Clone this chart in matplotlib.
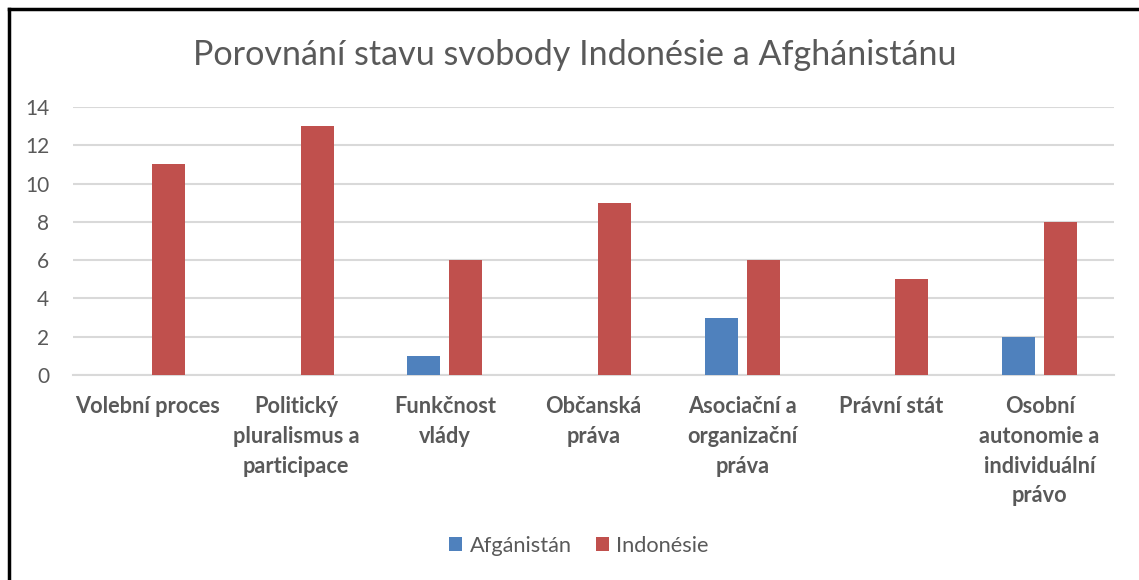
import matplotlib
matplotlib.use("Agg")
import matplotlib.pyplot as plt
import numpy as np
from matplotlib.lines import Line2D

categories = ["Volební proces", "Politický\npluralismus a\nparticipace", "Funkčnost\nvlády",
              "Občanská\npráva", "Asociační a\norganizační\npráva", "Právní stát",
              "Osobní\nautonomie a\nindividuální\nprávo"]
afganistan = [0, 0, 1, 0, 3, 0, 2]
indonesie = [11, 13, 6, 9, 6, 5, 8]
series_names = ["Afgánistán", "Indonésie"]
yticks = [0, 2, 4, 6, 8, 10, 12, 14]
title = "Porovnání stavu svobody Indonésie a Afghánistánu"

plt.rcParams['font.family'] = ['Lato', 'DejaVu Sans']
txt = '#595959'
fig = plt.figure(figsize=(11.39, 5.80), dpi=100)
ax = fig.add_axes([73/1139, 1-375/580, (1114-73)/1139, (375-107)/580])

x = np.arange(len(categories))
w = 0.222
off = 0.141
ax.bar(x - off, afganistan, w, color='#4F81BD', label=series_names[0], zorder=3)
ax.bar(x + off, indonesie, w, color='#C0504D', label=series_names[1], zorder=3)

ax.set_xlim(-0.5, len(categories) - 0.5)
ax.set_ylim(0, 14)
ax.set_yticks(yticks)
ax.yaxis.grid(True, color='#D9D9D9', linewidth=1.5, zorder=0)
for s in ['top', 'right', 'left']:
    ax.spines[s].set_visible(False)
ax.spines['bottom'].set_color('#D9D9D9')
ax.spines['bottom'].set_linewidth(1.5)
ax.tick_params(axis='y', length=0, pad=17, labelsize=15, labelcolor=txt)
ax.tick_params(axis='x', length=0, pad=15)
ax.set_xticks(x)
ax.set_xticklabels(categories, fontsize=15.7, fontweight='bold', color=txt,
                   linespacing=1.52, va='top')

fig.text(0.505, 1-55/580, title, ha='center', va='center', fontsize=24.6, color=txt)

fig.legend(loc='center', bbox_to_anchor=(579/1139, 1-546/580), ncol=2, frameon=False,
           fontsize=15.7, labelcolor=txt, handlelength=0.6, handleheight=0.6,
           handletextpad=0.35, columnspacing=1.1)

fig.add_artist(Line2D([8.5/1139, 8.5/1139], [0, 1-8.5/580], transform=fig.transFigure,
                      color='black', linewidth=2.5, solid_capstyle='projecting'))
fig.add_artist(Line2D([8.5/1139, 1], [1-8.5/580, 1-8.5/580], transform=fig.transFigure,
                      color='black', linewidth=2.5, solid_capstyle='projecting'))

fig.savefig("out.png", dpi=100)
